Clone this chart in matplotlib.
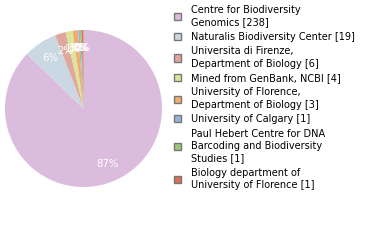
import matplotlib.pyplot as plt
from matplotlib.patches import Patch

labels = ["Centre for Biodiversity\nGenomics [238]",
          "Naturalis Biodiversity Center [19]",
          "Universita di Firenze,\nDepartment of Biology [6]",
          "Mined from GenBank, NCBI [4]",
          "University of Florence,\nDepartment of Biology [3]",
          "University of Calgary [1]",
          "Paul Hebert Centre for DNA\nBarcoding and Biodiversity\nStudies [1]",
          "Biology department of\nUniversity of Florence [1]"]
counts = [238, 19, 6, 4, 3, 1, 1, 1]
colors = ["#dcbcdc", "#cad8e4", "#e0a89c", "#dce49c", "#f0ac70", "#98b4d8", "#9cc47c", "#dc7058"]

fig = plt.figure(figsize=(3.8, 2.4), dpi=100)
ax = fig.add_axes([5 / 380, 53 / 240, 157 / 380, 157 / 240])

def pct(p):
    return "%d%%" % int(p)

wedges, texts, autotexts = ax.pie(counts, colors=colors, startangle=90, counterclock=False,
                                  autopct=pct, pctdistance=0.77,
                                  textprops=dict(color="white", fontsize=7.3))
ax.set_xlim(-1, 1)
ax.set_ylim(-1, 1)
ax.set_aspect("equal")

handles = [Patch(facecolor=c, edgecolor="#777777", linewidth=1) for c in colors]
leg = fig.legend(handles, labels, loc="upper left", bbox_to_anchor=(170 / 380, 0.995),
                 frameon=False, fontsize=7, handlelength=0.75, handleheight=0.75,
                 handletextpad=1.0, labelspacing=0.45, borderaxespad=0.2, borderpad=0.2)
for t in leg.get_texts():
    t.set_linespacing(1.3)

plt.savefig("out.png", dpi=100)
